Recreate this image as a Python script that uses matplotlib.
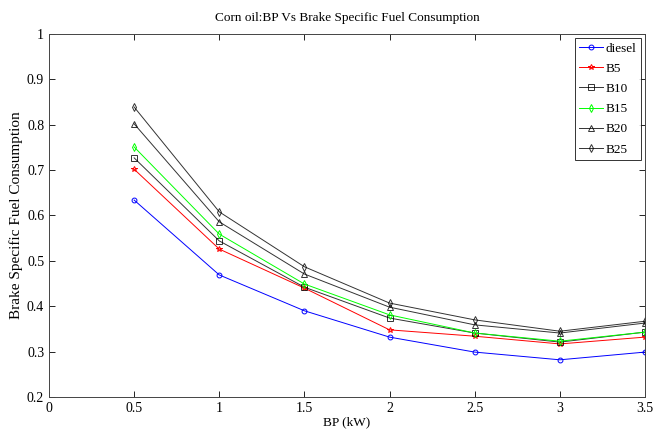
import matplotlib
matplotlib.use("Agg")
import matplotlib.pyplot as plt

plt.rcParams['font.family'] = ['Liberation Serif', 'DejaVu Serif']

bp = [0.5, 1.0, 1.5, 2.0, 2.5, 3.0, 3.5]
diesel = [0.634, 0.469, 0.390, 0.332, 0.299, 0.282, 0.299]
b5 = [0.702, 0.526, 0.440, 0.348, 0.334, 0.317, 0.332]
b10 = [0.727, 0.544, 0.442, 0.374, 0.341, 0.321, 0.343]
b15 = [0.751, 0.559, 0.449, 0.381, 0.341, 0.323, 0.343]
b20 = [0.802, 0.586, 0.471, 0.398, 0.359, 0.341, 0.363]
b25 = [0.839, 0.608, 0.487, 0.407, 0.370, 0.345, 0.367]

series = [
    ("diesel", diesel, "#0000ff", "o", 3.5),
    ("B5", b5, "#ff0000", "*", 4),
    ("B10", b10, "#000000", "s", 4),
    ("B15", b15, "#00ff00", "d", 4),
    ("B20", b20, "#000000", "^", 4),
    ("B25", b25, "#000000", "d", 4),
]

fig = plt.figure(figsize=(6.55, 4.3), dpi=100)
ax = fig.add_axes([0.0748, 0.0767, 0.9099, 0.8443])
for name, vals, col, mk, ms in series:
    ax.plot(bp, vals, color=col, marker=mk, markersize=ms, markerfacecolor='none',
            markeredgewidth=0.7, linewidth=0.7, label=name,
            alpha=0.8 if col == "#000000" else 1)

ax.set_xlim(0, 3.5)
ax.set_ylim(0.2, 1.0)
ax.set_xticks([0, 0.5, 1, 1.5, 2, 2.5, 3, 3.5])
ax.set_xticklabels(["0", "0.5", "1", "1.5", "2", "2.5", "3", "3.5"])
ax.set_yticks([0.2, 0.3, 0.4, 0.5, 0.6, 0.7, 0.8, 0.9, 1.0])
ax.set_yticklabels(["0.2", "0.3", "0.4", "0.5", "0.6", "0.7", "0.8", "0.9", "1"])
ax.tick_params(direction='in', labelsize=10, top=True, right=True, length=4, width=0.6)
for s in ax.spines.values():
    s.set_linewidth(0.7)
    s.set_color('#444444')
ax.set_xlabel("BP (kW)", fontsize=9.5, labelpad=1)
ax.set_ylabel("Brake Specific Fuel Consumption", fontsize=11, labelpad=3)
ax.set_title("Corn oil:BP Vs Brake Specific Fuel Consumption", fontsize=9.5, pad=9)
leg = ax.legend(loc='upper right', fontsize=9.5, frameon=True, fancybox=False,
                edgecolor='black', handlelength=1.8, borderpad=0.35, labelspacing=0.6,
                handletextpad=0.2, borderaxespad=0.3)
leg.get_frame().set_linewidth(0.7)
fig.savefig("out.png", dpi=100)
